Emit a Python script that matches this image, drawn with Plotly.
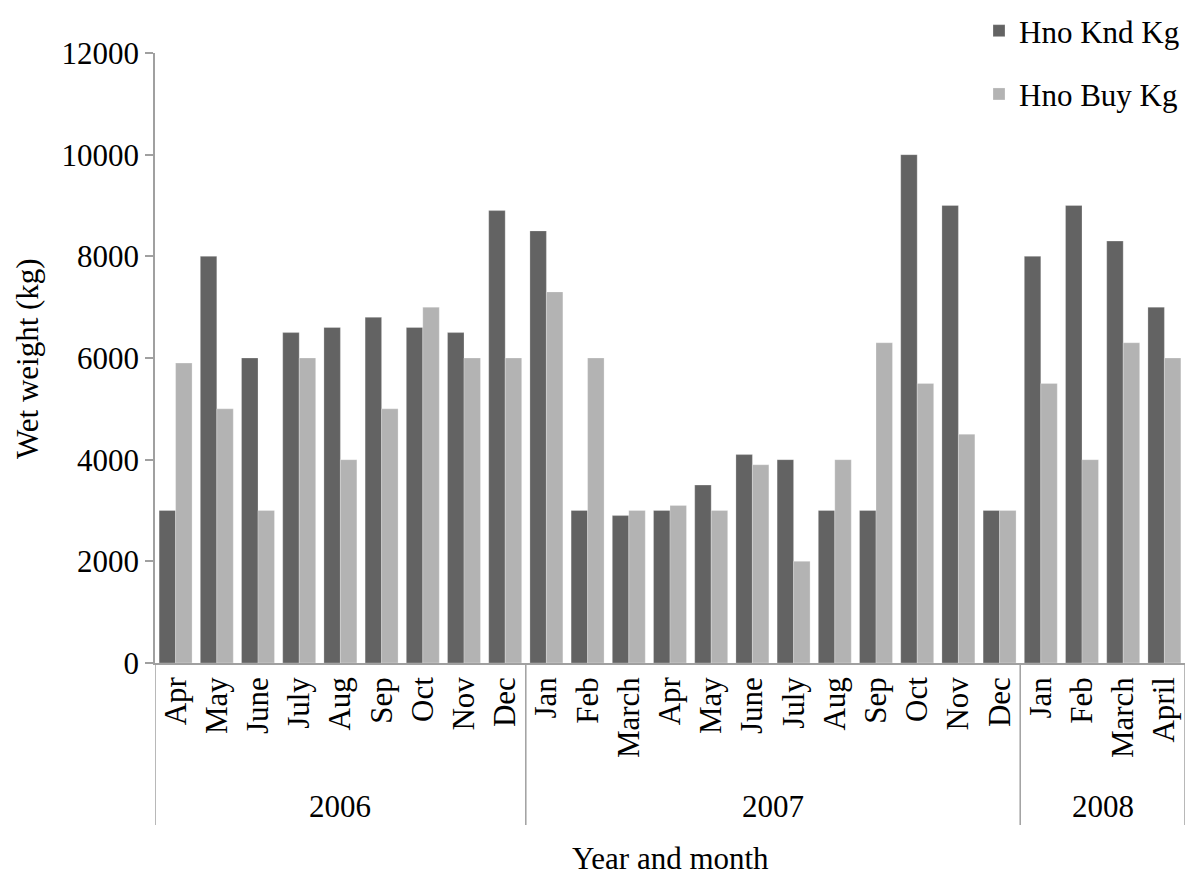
import plotly.graph_objects as go

months = ["Apr", "May", "June", "July", "Aug", "Sep", "Oct", "Nov", "Dec",
          "Jan", "Feb", "March", "Apr", "May", "June", "July", "Aug", "Sep", "Oct", "Nov", "Dec",
          "Jan", "Feb", "March", "April"]
years = ["2006", "2007", "2008"]
year_counts = [9, 12, 4]
knd = [3000, 8000, 6000, 6500, 6600, 6800, 6600, 6500, 8900,
       8500, 3000, 2900, 3000, 3500, 4100, 4000, 3000, 3000, 10000, 9000, 3000,
       8000, 9000, 8300, 7000]
buy = [5900, 5000, 3000, 6000, 4000, 5000, 7000, 6000, 6000,
       7300, 6000, 3000, 3100, 3000, 3900, 2000, 4000, 6300, 5500, 4500, 3000,
       5500, 4000, 6300, 6000]

FONT = "Liberation Serif, Times New Roman, serif"
FS = 31
AX = "#a0a0a0"
x = list(range(len(months)))

fig = go.Figure()
fig.add_trace(go.Bar(x=x, y=knd, name="Hno Knd Kg", legendgroup="a",
                     marker=dict(color="#636363", line=dict(color="rgba(255,255,255,0.5)", width=0.5))))
fig.add_trace(go.Bar(x=x, y=buy, name="Hno Buy Kg", legendgroup="b",
                     marker=dict(color="#b3b3b3", line=dict(color="rgba(255,255,255,0.5)", width=0.5))))

# year dividers and labels
start = 0
bounds = [-0.5]
for yr, n in zip(years, year_counts):
    center = start + (n - 1) / 2
    fig.add_annotation(x=center, y=-0.236, xref="x", yref="paper", text=yr, showarrow=False,
                       font=dict(family=FONT, size=FS, color="black"), yanchor="middle")
    start += n
    bounds.append(start - 0.5)
for b in bounds:
    fig.add_shape(type="line", xref="x", yref="paper", x0=b, x1=b, y0=0, y1=-0.2656,
                  line=dict(color=AX, width=1.5))

fig.add_annotation(x=0.5, y=-0.3197, xref="paper", yref="paper", text="Year and month",
                   showarrow=False, yanchor="middle",
                   font=dict(family=FONT, size=FS, color="black"))
fig.add_annotation(x=-0.1243, y=0.5, xref="paper", yref="paper", text="Wet weight (kg)",
                   showarrow=False, textangle=-90, xanchor="center", yanchor="middle",
                   font=dict(family=FONT, size=FS, color="black"))

fig.update_layout(
    width=1188, height=882,
    margin=dict(l=155, r=3, t=53, b=219),
    paper_bgcolor="white", plot_bgcolor="white",
    barmode="group", bargap=0.2, bargroupgap=0,
    font=dict(family=FONT, size=FS, color="black"),
    showlegend=True,
    legend=dict(x=1.0, y=1.0803, xanchor="right", yanchor="top",
                traceorder="grouped",
                tracegroupgap=20, font=dict(family=FONT, size=FS, color="black"),
                itemwidth=30, bgcolor="rgba(0,0,0,0)"),
    xaxis=dict(range=[-0.5, 24.5], tickmode="array", tickvals=x, ticktext=months,
               tickangle=-90, showline=True, linecolor=AX, linewidth=1.5,
               ticks="", showgrid=False, zeroline=False,
               tickfont=dict(family=FONT, size=FS, color="black")),
    yaxis=dict(range=[0, 12000], tickvals=[0, 2000, 4000, 6000, 8000, 10000, 12000],
               tickformat="d",
               showline=True, linecolor=AX, linewidth=1.5, ticks="outside",
               ticklen=8, tickcolor=AX, tickwidth=1.5, showgrid=False, zeroline=False,
               tickfont=dict(family=FONT, size=FS, color="black")),
)
fig.write_html("out.html", config={"displayModeBar": False},
               post_script="document.body.style.margin='0';")
